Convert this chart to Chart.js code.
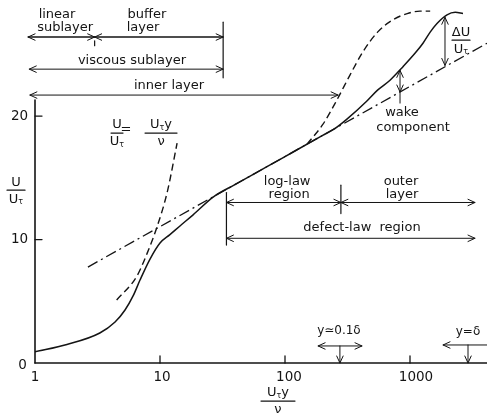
<!DOCTYPE html>
<html><head><meta charset="utf-8">
<script src="https://cdn.jsdelivr.net/npm/chart.js@4/dist/chart.umd.min.js"></script>
<style>html,body{margin:0;padding:0;background:#fff}#wrap{width:487px;height:415px}</style>
</head><body><div id="wrap"><canvas id="c" width="487" height="415"></canvas></div>
<script>
// ---- data (x = U_tau*y/nu, y = U/U_tau) ----
const xTickValues = [1, 10, 100, 1000];
const xTickLabels = ['1', '10', '100', '1000'];
const yTickValues = [0, 10, 20];
const yTickLabels = ['0', '10', '20'];

const profileX = [1, 1.8, 3.3, 4.37, 5.25, 6.09, 6.92, 8.32, 10, 12.0, 14.45, 18.4, 26.6, 40, 70, 120, 200, 250, 313, 450, 550, 692, 879, 1100, 1270, 1450, 1644, 1977, 2300, 2655];
const profileY = [0.9, 1.5, 2.43, 3.32, 4.29, 5.43, 6.72, 8.42, 9.72, 10.4, 11.1, 12.0, 13.44, 14.46, 15.84, 17.17, 18.43, 18.98, 19.75, 21.2, 22.1, 22.9, 24.0, 25.1, 25.9, 26.8, 27.5, 28.2, 28.4, 28.3];

const linearX = [4.5, 6.5, 7.9, 9.45, 11.4, 13.7];
const linearY = [5.1, 7.0, 8.9, 11.0, 13.8, 17.8];

const logLawX = [2.65, 4130];
const logLawY = [7.77, 25.9];

const outerDashX = [150, 200, 260, 330, 420, 550, 730, 950, 1200, 1450];
const outerDashY = [17.72, 19.3, 21.3, 23.3, 25.2, 26.8, 27.8, 28.3, 28.5, 28.5];

const INK = '#141414';
const FF = '"DejaVu Sans", "Liberation Sans", sans-serif';
const zip = (xs, ys) => xs.map((v, i) => ({x: v, y: ys[i]}));

// region spans: [x1, x2, y, width]
const spans = [
  [0.88, 3, 26.4, 1.4],
  [3, 32, 26.4, 1.4],
  [0.9, 32, 23.8, 1],
  [0.91, 266, 21.7, 1],
  [34, 280, 13.0, 1],
  [280, 3311, 13.0, 1],
  [34, 3311, 10.1, 1]
];
// vertical guide lines: [x, y1, y2]
const guides = [
  [32, 27.6, 23.1],
  [3, 26.1, 25.7],
  [34, 13.8, 9.55],
  [280, 14.4, 12.1]
];
// plain text labels: [text, x, y]
const labels = [
  ['linear', 1.5, 28.18], ['sublayer', 1.74, 27.2],
  ['buffer', 7.87, 28.18], ['layer', 7.31, 27.2],
  ['viscous sublayer', 5.97, 24.5],
  ['inner layer', 11.8, 22.5],
  ['log-law', 104, 14.66], ['region', 108, 13.6],
  ['outer', 847, 14.66], ['layer', 863, 13.6],
  ['defect-law  region', 413, 10.93],
  ['wake', 863, 20.24], ['component', 1057, 19.03]
];

const annot = {
  id: 'annot',
  afterDatasetsDraw(chart) {
    const {ctx, scales: {x, y}, chartArea} = chart;
    const X = v => x.getPixelForValue(v), Y = v => y.getPixelForValue(v);
    ctx.save();
    ctx.strokeStyle = INK; ctx.fillStyle = INK; ctx.lineCap = 'round';
    const line = (x1, y1, x2, y2, w) => { ctx.lineWidth = w || 1; ctx.beginPath(); ctx.moveTo(x1, y1); ctx.lineTo(x2, y2); ctx.stroke(); };
    const head = (px, py, dx, dy) => {
      const L = 7, H = 3.2;
      ctx.lineWidth = 1; ctx.beginPath();
      ctx.moveTo(px - dx * L - dy * H, py - dy * L + dx * H);
      ctx.lineTo(px, py);
      ctx.lineTo(px - dx * L + dy * H, py - dy * L - dx * H);
      ctx.stroke();
    };
    const rich = (parts, cx, cy) => {
      let w = 0;
      parts.forEach(p => { ctx.font = (p.s || 13) + 'px ' + FF; p.w = ctx.measureText(p.t).width; w += p.w; });
      let x0 = cx - w / 2;
      ctx.textAlign = 'left'; ctx.textBaseline = 'middle';
      parts.forEach(p => { ctx.font = (p.s || 13) + 'px ' + FF; ctx.fillText(p.t, x0, cy + (p.dy || 0)); x0 += p.w; });
    };
    const frac = (num, den, cx, cy, hw) => {
      rich(num, cx, cy - 8);
      line(cx - hw, cy, cx + hw, cy, 1.2);
      rich(den, cx, cy + 9);
    };
    const Ut = [{t: 'U', s: 13}, {t: 'τ', s: 8, dy: 3}];
    const Uty = [{t: 'U', s: 13}, {t: 'τ', s: 8, dy: 3}, {t: 'y', s: 13}];
    const nu = [{t: 'ν', s: 13}];

    // axes
    line(X(1), Y(0), X(1), Y(21.3), 1.6);
    line(X(1), Y(0), chartArea.right, Y(0), 1.6);
    xTickValues.forEach((v, i) => {
      if (v > 1) line(X(v), Y(0), X(v), Y(0) - 7, 1.3);
      ctx.font = '13.5px ' + FF; ctx.textAlign = 'center'; ctx.textBaseline = 'middle';
      ctx.fillText(xTickLabels[i], X(v) + (xTickLabels[i].length - 1) * 2, Y(-1.21));
    });
    yTickValues.forEach((v, i) => {
      ctx.font = '13.5px ' + FF; ctx.textBaseline = 'middle'; ctx.textAlign = 'right';
      if (v > 0) {
        line(X(1), Y(v), X(1) + 7, Y(v), 1.3);
        ctx.fillText(yTickLabels[i], X(0.88), Y(v));
      } else {
        ctx.fillText(yTickLabels[i], X(0.86), Y(-0.24));
      }
    });

    // spans with arrows at both ends
    spans.forEach(([a, b, v, w]) => {
      const x1 = X(a), x2 = X(b), yy = Y(v);
      line(x1, yy, x2, yy, w);
      head(x1, yy, -1, 0);
      head(x2, yy, 1, 0);
    });
    guides.forEach(([a, v1, v2]) => line(X(a), Y(v1), X(a), Y(v2), 1.2));

    // text labels
    ctx.textAlign = 'center'; ctx.textBaseline = 'middle';
    labels.forEach(([t, a, v]) => { ctx.font = '13px ' + FF; ctx.fillText(t, X(a), Y(v)); });

    // delta U arrow
    line(X(1905), Y(28.0), X(1905), Y(24.1), 1);
    head(X(1905), Y(28.0), 0, -1); head(X(1905), Y(24.1), 0, 1);
    frac([{t: 'ΔU', s: 13}], Ut, X(2559), Y(26.15), 9);
    // wake arrow
    line(X(832), Y(23.7), X(832), Y(21.05), 1);
    head(X(832), Y(23.7), 0, -1); head(X(832), Y(21.95), 0, 1);

    // formula U/Ut = Ut y / nu
    frac([{t: 'U', s: 13}], Ut, X(4.53), Y(18.62), 6);
    rich([{t: '=', s: 13}], X(5.35), Y(18.87));
    frac(Uty, nu, X(10.19), Y(18.62), 16);

    // axis titles
    frac([{t: 'U', s: 13}], Ut, X(0.705), Y(14.0), 9);
    frac(Uty, nu, X(87.9), Y(-3.08), 17);

    // bottom markers
    rich([{t: 'y≃0.1δ', s: 12}], X(270), Y(2.59));
    line(X(184), Y(1.38), X(413), Y(1.38), 1);
    head(X(184), Y(1.38), -1, 0); head(X(413), Y(1.38), 1, 0);
    line(X(275), Y(1.38), X(275), Y(0), 1); head(X(275), Y(0), 0, 1);
    rich([{t: 'y=δ', s: 12}], X(2911), Y(2.51));
    line(X(1837), Y(1.46), chartArea.right, Y(1.46), 1);
    head(X(1837), Y(1.46), -1, 0);
    line(X(2911), Y(1.46), X(2911), Y(0), 1); head(X(2911), Y(0), 0, 1);
    ctx.restore();
  }
};

new Chart(document.getElementById('c'), {
  type: 'line',
  data: {
    datasets: [
      {data: zip(logLawX, logLawY), borderColor: INK, borderWidth: 1.3, borderDash: [11, 4, 2, 4], pointRadius: 0, fill: false},
      {data: zip(linearX, linearY), borderColor: INK, borderWidth: 1.4, borderDash: [7, 4], pointRadius: 0, cubicInterpolationMode: 'monotone', fill: false},
      {data: zip(outerDashX, outerDashY), borderColor: INK, borderWidth: 1.4, borderDash: [7, 4], pointRadius: 0, cubicInterpolationMode: 'monotone', fill: false},
      {data: zip(profileX, profileY), borderColor: INK, borderWidth: 1.5, pointRadius: 0, cubicInterpolationMode: 'monotone', fill: false}
    ]
  },
  options: {
    responsive: false, animation: false, devicePixelRatio: 1,
    layout: {padding: {left: 35, right: 0, top: 0, bottom: 52}},
    plugins: {legend: {display: false}, tooltip: {enabled: false}},
    scales: {
      x: {type: 'logarithmic', min: 1, max: 4130, display: false},
      y: {type: 'linear', min: 0, max: 29.4, display: false}
    }
  },
  plugins: [annot]
});
</script></body></html>
